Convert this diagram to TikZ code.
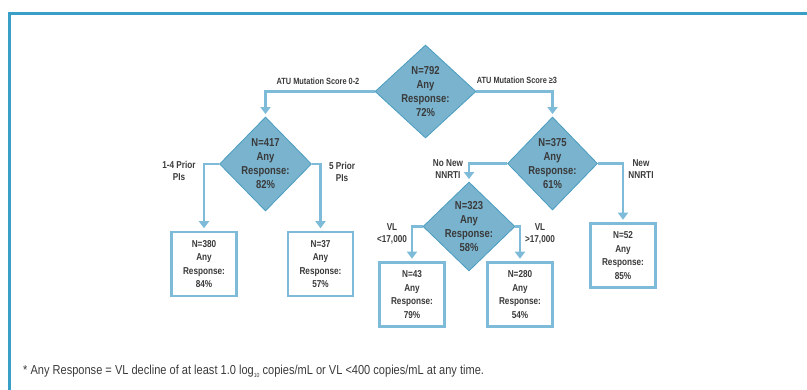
\documentclass[tikz,border=0pt]{standalone}
\usepackage{amsfonts, amsmath, amssymb}
\usepackage{fontspec}
\setmainfont{Liberation Sans}[FakeStretch=0.82]
\newfontfamily\notefont{Liberation Sans}[FakeStretch=0.85]
\usepackage{tikz}
\usetikzlibrary{shapes,shapes.geometric,arrows,arrows.meta,calc}
\definecolor{frameblue}{HTML}{3A9FC6}
\definecolor{linkblue}{HTML}{7DBBD8}
\definecolor{fillblue}{HTML}{79B3CE}
\definecolor{edgeblue}{HTML}{4A9DC0}
\definecolor{textgray}{HTML}{3A3A3A}

\begin{document}
\begin{tikzpicture}[x=1pt,y=-1pt,
  decision/.style={diamond,fill=fillblue,draw=edgeblue,line width=.8pt,inner sep=-10pt,
    minimum width=92pt,minimum height=92pt,align=center,text=textgray,
    font=\bfseries\fontsize{11.5}{14}\selectfont},
  result/.style={rectangle,draw=linkblue,line width=2.5pt,fill=white,inner sep=0pt,
    minimum width=65pt,minimum height=64pt,align=center,text=textgray,
    font=\bfseries\fontsize{10}{13.6}\selectfont},
  link/.style={draw=linkblue,line width=2.5pt,-{Triangle[width=10pt,length=7pt]},shorten >=2.5pt},
  branch/.style={align=center,text=textgray,font=\bfseries\fontsize{10}{12.5}\selectfont},
  topbranch/.style={text=textgray,font=\bfseries\fontsize{9}{11}\selectfont}]
\useasboundingbox (0,0) rectangle (807,390);
\draw[frameblue,line width=2.5pt] (9.5,390) -- (9.5,13.5) -- (807,13.5);
\node[decision,minimum width=101pt,minimum height=93pt] (n792) at (425.5,91.5) {N=792\\Any\\Response:\\72\%};
\node[decision,minimum height=94pt] (n417) at (265.5,164) {N=417\\Any\\Response:\\82\%};
\node[decision,minimum width=90pt,minimum height=93pt] (n375) at (552.5,163.5) {N=375\\Any\\Response:\\61\%};
\node[decision,minimum height=89pt] (n323) at (469,226.5) {N=323\\Any\\Response:\\58\%};
\node[result] (b380) at (204,264) {N=380\\Any\\Response:\\84\%};
\node[result] (b37) at (320.5,264) {N=37\\Any\\Response:\\57\%};
\node[result] (b52) at (623,255.5) {N=52\\Any\\Response:\\85\%};
\node[result] (b43) at (412,294.5) {N=43\\Any\\Response:\\79\%};
\node[result] (b280) at (520,294.5) {N=280\\Any\\Response:\\54\%};
\draw[link] (n792.west) -| (n417.north);
\draw[link] (n792.east) -| (n375.north);
\draw[link] (n417.west) -| (b380.north);
\draw[link] (n417.east) -| (b37.north);
\draw[link] (n375.west) -| (n323.north);
\draw[link] (n375.east) -| (b52.north);
\draw[link] (n323.west) -| (b43.north);
\draw[link] (n323.east) -| (b280.north);
\node[topbranch] (l02) at (318,81) {ATU Mutation Score 0-2};
\node[topbranch] (l3) at (517,80) {ATU Mutation Score ≥3};
\node[branch] (lpi4) at (179,171) {1-4 Prior\\PIs};
\node[branch] (lpi5) at (342,172) {5 Prior\\PIs};
\node[branch] (lnonew) at (448,169) {No New\\NNRTI};
\node[branch] (lnew) at (641,169) {New\\NNRTI};
\node[branch] (lvllow) at (392,234) {VL\\<17,000};
\node[branch] (lvlhigh) at (540,234) {VL\\>17,000};
\node[anchor=base west,text=textgray,font=\notefont\fontsize{13}{15}\selectfont,inner sep=0pt] (note) at (23,375)
  {* Any Response = VL decline of at least 1.0 log\raisebox{-3pt}{\fontsize{6}{7}\selectfont 10} copies/mL or VL <400 copies/mL at any time.};
\end{tikzpicture}
\end{document}
